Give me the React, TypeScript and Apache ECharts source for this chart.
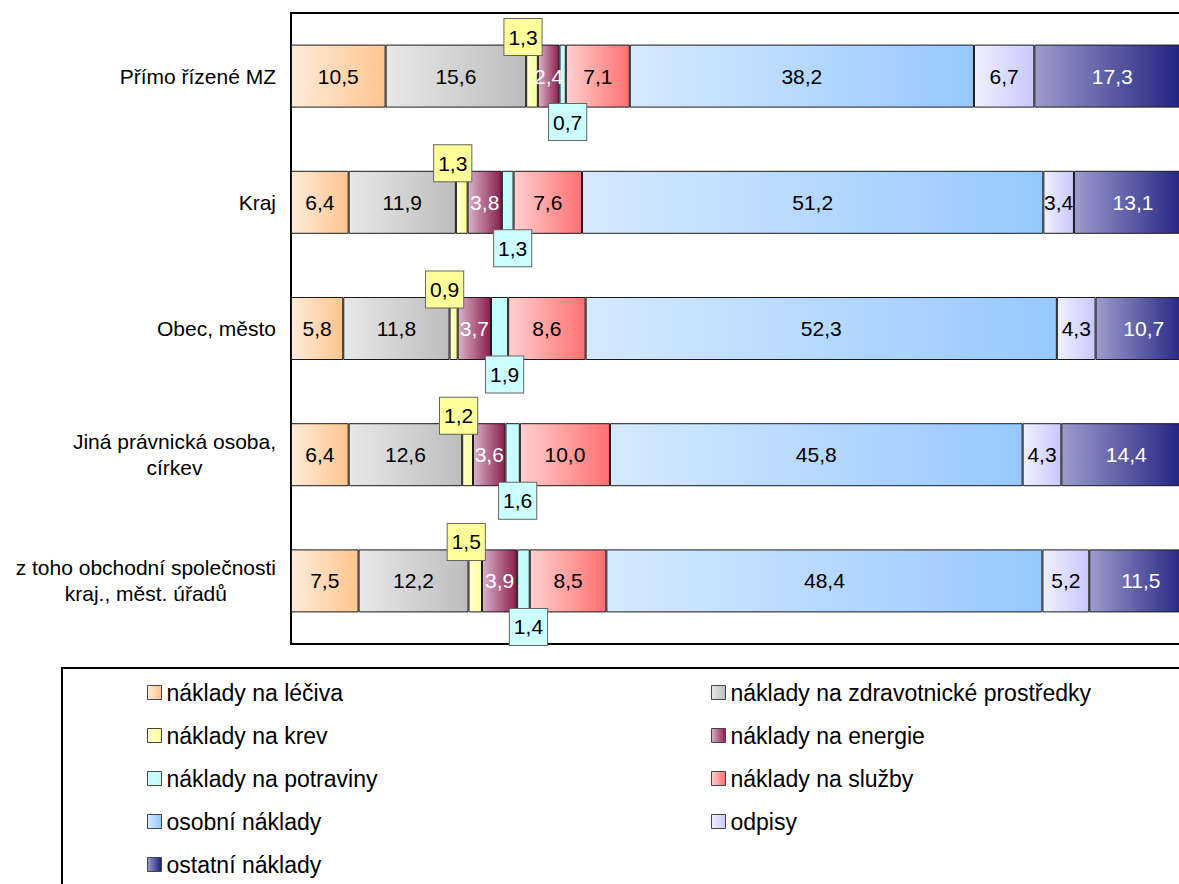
import React, { useEffect, useRef } from "react";
import * as echarts from "echarts";

const categories = [
  "Přímo řízené MZ",
  "Kraj",
  "Obec, město",
  "Jiná právnická osoba,\ncírkev",
  "z toho obchodní společnosti\nkraj., měst. úřadů",
];

const seriesNames = [
  "náklady na léčiva",
  "náklady na zdravotnické prostředky",
  "náklady na krev",
  "náklady na energie",
  "náklady na potraviny",
  "náklady na služby",
  "osobní náklady",
  "odpisy",
  "ostatní náklady",
];

const lecivaValues = [10.5, 6.4, 5.8, 6.4, 7.5];
const zdravValues = [15.6, 11.9, 11.8, 12.6, 12.2];
const krevValues = [1.3, 1.3, 0.9, 1.2, 1.5];
const energieValues = [2.4, 3.8, 3.7, 3.6, 3.9];
const potravinyValues = [0.7, 1.3, 1.9, 1.6, 1.4];
const sluzbyValues = [7.1, 7.6, 8.6, 10.0, 8.5];
const osobniValues = [38.2, 51.2, 52.3, 45.8, 48.4];
const odpisyValues = [6.7, 3.4, 4.3, 4.3, 5.2];
const ostatniValues = [17.3, 13.1, 10.7, 14.4, 11.5];

const allValues = [
  lecivaValues,
  zdravValues,
  krevValues,
  energieValues,
  potravinyValues,
  sluzbyValues,
  osobniValues,
  odpisyValues,
  ostatniValues,
];

const gradients: [string, string][] = [
  ["#FFEBDA", "#FFC58E"],
  ["#E8E8E8", "#BDBDBD"],
  ["#FFFFD0", "#FFFF99"],
  ["#D8B2C8", "#8A1E4E"],
  ["#CCFFFF", "#BFFBFB"],
  ["#FFD0D0", "#FF7070"],
  ["#D6E9FF", "#96C8FF"],
  ["#F0F0FF", "#C8C8FF"],
  ["#9C9CCC", "#1A1A7C"],
];

const FONT = "Liberation Sans, Arial, sans-serif";

export default function App() {
  const ref = useRef<HTMLDivElement>(null);

  useEffect(() => {
    if (!ref.current) return;
    const chart = echarts.init(ref.current, null, { renderer: "svg" });
    const fmt = (p: any) => Number(p.value).toFixed(1).replace(".", ",");

    const series = allValues.map((vals, i) => {
      let label: any = {
        show: true,
        position: "inside",
        formatter: fmt,
        fontSize: 21,
        fontFamily: FONT,
        color: i === 3 || i === 8 ? "#fff" : "#000",
      };
      if (i === 2) {
        label = {
          ...label,
          offset: [-9, -39],
          backgroundColor: "#FFFF99",
          borderColor: "#666",
          borderWidth: 1,
          padding: [8, 4, 7, 4],
        };
      }
      if (i === 4) {
        label = {
          ...label,
          offset: [5, 46],
          backgroundColor: "#CCFFFF",
          borderColor: "#666",
          borderWidth: 1,
          padding: [8, 4, 7, 4],
        };
      }
      return {
        name: seriesNames[i],
        type: "bar",
        stack: "total",
        barWidth: 63,
        data: vals,
        itemStyle: {
          color: new echarts.graphic.LinearGradient(0, 0, 1, 0, [
            { offset: 0, color: gradients[i][0] },
            { offset: 1, color: gradients[i][1] },
          ]),
          borderColor: "#1a1a1a",
          borderWidth: 1,
        },
        label,
      };
    });

    const legendCommon = {
      orient: "vertical",
      itemWidth: 14,
      itemHeight: 14,
      itemGap: 20,
      padding: 0,
      icon: "rect",
      textStyle: { fontSize: 23, fontFamily: FONT, color: "#000" },
      itemStyle: { borderColor: "#444", borderWidth: 1 },
      selectedMode: false,
    };

    chart.setOption({
      animation: false,
      backgroundColor: "#fff",
      grid: {
        left: 291,
        top: 13,
        height: 631,
        width: 901,
        show: true,
        borderColor: "#000",
        borderWidth: 2,
        backgroundColor: "transparent",
      },
      xAxis: {
        type: "value",
        min: 0,
        max: 100,
        show: false,
        splitLine: { show: false },
      },
      yAxis: {
        type: "category",
        data: categories,
        inverse: true,
        axisLine: { show: false },
        axisTick: { show: false },
        axisLabel: {
          margin: 15,
          align: "right",
          fontSize: 21,
          fontFamily: FONT,
          color: "#000",
          formatter: (v: string) =>
            v
              .split("\n")
              .map((l) => `{c|${l}}`)
              .join("\n"),
          rich: {
            c: {
              align: "center",
              fontSize: 21,
              fontFamily: FONT,
              color: "#000",
              lineHeight: 26,
            },
          },
        },
      },
      legend: [
        {
          ...legendCommon,
          left: 147,
          top: 681,
          data: [seriesNames[0], seriesNames[2], seriesNames[4], seriesNames[6], seriesNames[8]],
        },
        {
          ...legendCommon,
          left: 711,
          top: 681,
          data: [seriesNames[1], seriesNames[3], seriesNames[5], seriesNames[7]],
        },
      ],
      graphic: [
        {
          type: "rect",
          shape: { x: 62, y: 668, width: 1200, height: 300 },
          style: { fill: "none", stroke: "#000", lineWidth: 2 },
          silent: true,
        },
      ],
      series,
    });

    return () => chart.dispose();
  }, []);

  return (
    <div
      ref={ref}
      style={{ position: "fixed", left: 0, top: 0, width: 1260, height: 1000 }}
    />
  );
}
